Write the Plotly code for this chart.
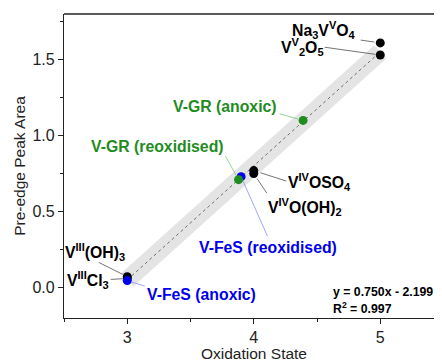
import plotly.graph_objects as go

# ---- data ----
ref_labels = ["Na<sub>3</sub>V<sup>V</sup>O<sub>4</sub>", "V<sup>V</sup><sub>2</sub>O<sub>5</sub>",
              "V<sup>IV</sup>OSO<sub>4</sub>", "V<sup>IV</sup>O(OH)<sub>2</sub>",
              "V<sup>III</sup>(OH)<sub>3</sub>", "V<sup>III</sup>Cl<sub>3</sub>"]
ref_ox = [5.0, 5.0, 4.0, 4.0, 3.0, 3.0]
ref_area = [1.61, 1.53, 0.77, 0.75, 0.072, 0.06]

gr_labels = ["V-GR (anoxic)", "V-GR (reoxidised)"]
gr_ox = [4.39, 3.88]
gr_area = [1.10, 0.71]

fes_labels = ["V-FeS (anoxic)", "V-FeS (reoxidised)"]
fes_ox = [3.0, 3.9]
fes_area = [0.046, 0.73]

fit_slope = 0.750
fit_intercept = -2.199
fit_r2 = 0.997
fit_x = [3.0, 5.0]

x_title = "Oxidation State"
y_title = "Pre-edge Peak Area"
x_tick_vals = [3, 4, 5]
y_tick_vals = [0.0, 0.5, 1.0, 1.5]
y_tick_text = ["0.0", "0.5", "1.0", "1.5"]

# ---- styling / label placement (pixel offsets) ----
BLACK = "#000000"
GREEN = "#1e8c1e"
BLUE = "#0000f0"
FONT = "Liberation Sans, Arial, sans-serif"

# (text dx, text dy, leader start dx, leader start dy, standoff) in px, dy downwards
ref_place = [(-56, -13, -21, -3, 6), (-78, -8, -57, -8, 5), (66, 11, 34, 11, 7),
             (51, 33, 14, 21, 6), (-32, -25, -30, -15, 5), (-39, 2, -18, 1, 5)]
gr_place = [(-78, -14, -25, -7, 5), (-81, -33, -14, -25, 5)]
fes_place = [(74, 14, 19, 6, 4), (27, 71, 27, 61, 5)]

fit_y = [fit_slope * v + fit_intercept for v in fit_x]

fig = go.Figure()
# confidence band
fig.add_trace(go.Scatter(x=fit_x, y=fit_y, mode="lines",
                         line=dict(color="#e4e4e4", width=18), hoverinfo="skip", showlegend=False))
# fit line
fig.add_trace(go.Scatter(x=fit_x, y=fit_y, mode="lines",
                         line=dict(color="#6e6e6e", width=1, dash="dot"), hoverinfo="skip", showlegend=False))
fig.add_trace(go.Scatter(x=ref_ox, y=ref_area, mode="markers",
                         marker=dict(color=BLACK, size=9), showlegend=False))
fig.add_trace(go.Scatter(x=fes_ox, y=fes_area, mode="markers",
                         marker=dict(color=BLUE, size=9), showlegend=False))
fig.add_trace(go.Scatter(x=gr_ox, y=gr_area, mode="markers",
                         marker=dict(color=GREEN, size=9), showlegend=False))

def add_labels(xs, ys, labels, places, color, leader_color):
    for x, y, lab, (tdx, tdy, lx, ly, so) in zip(xs, ys, labels, places):
        fig.add_annotation(x=x, y=y, xref="x", yref="y", text="<b>%s</b>" % lab,
                           showarrow=False, xshift=tdx, yshift=-tdy,
                           font=dict(family=FONT, size=15.8, color=color))
        fig.add_annotation(x=x, y=y, xref="x", yref="y", text="", showarrow=True,
                           ax=lx, ay=ly, axref="pixel", ayref="pixel", arrowhead=0,
                           arrowwidth=0.8, arrowcolor=leader_color, standoff=so)

add_labels(ref_ox, ref_area, ref_labels, ref_place, BLACK, "#505050")
add_labels(gr_ox, gr_area, gr_labels, gr_place, GREEN, "#7cc47c")
add_labels(fes_ox, fes_area, fes_labels, fes_place, BLUE, "#8c8cff")

fig.add_annotation(xref="paper", yref="paper", x=0.706, y=0.0855, xanchor="left", yanchor="middle",
                   text="<b>y = %.3fx - %.3f</b>" % (fit_slope, abs(fit_intercept)), showarrow=False,
                   font=dict(family=FONT, size=12.3, color=BLACK))
fig.add_annotation(xref="paper", yref="paper", x=0.706, y=0.033, xanchor="left", yanchor="middle",
                   text="<b>R<sup>2</sup> = %.3f</b>" % fit_r2, showarrow=False,
                   font=dict(family=FONT, size=12.3, color=BLACK))

# x-axis title (placed as annotation so it can sit at the very bottom edge)
fig.add_annotation(xref="paper", yref="paper", x=(254 - 64) / 378, y=-(353.5 - 318) / 304,
                   xanchor="center", yanchor="middle", text=x_title, showarrow=False,
                   font=dict(family=FONT, size=15.5, color="#222"))

# top frame line
fig.add_shape(type="line", xref="paper", yref="paper", x0=0, x1=1, y0=1, y1=1,
              line=dict(color="#222", width=1.3))

# page body has an 8px margin, so the figure is sized/margined to compensate
fig.update_layout(
    width=434, height=354,
    margin=dict(l=56, r=0, t=6, b=44, autoexpand=False),
    paper_bgcolor="white", plot_bgcolor="white",
    font=dict(family=FONT, size=15.5, color="#222"),
    xaxis=dict(range=[2.5, 5.488], tickvals=x_tick_vals, ticks="outside", ticklen=5, tickwidth=1,
               tickcolor="#222", showline=True, linecolor="#222", linewidth=1.3,
               showgrid=False, zeroline=False, automargin=False,
               minor=dict(dtick=0.5, tick0=2.5, ticks="outside", ticklen=3, tickcolor="#222"),
               tickfont=dict(size=16)),
    yaxis=dict(range=[-0.2, 1.8], tickvals=y_tick_vals, ticktext=y_tick_text, ticks="outside",
               ticklen=5, tickwidth=1, tickcolor="#222", showline=True, linecolor="#222",
               linewidth=1.3, showgrid=False, zeroline=False, automargin=False,
               minor=dict(dtick=0.25, tick0=0, ticks="outside", ticklen=3, tickcolor="#222"),
               title=dict(text=y_title, standoff=2, font=dict(size=15.5)),
               tickfont=dict(size=16)),
)

fig.write_html("out.html")
